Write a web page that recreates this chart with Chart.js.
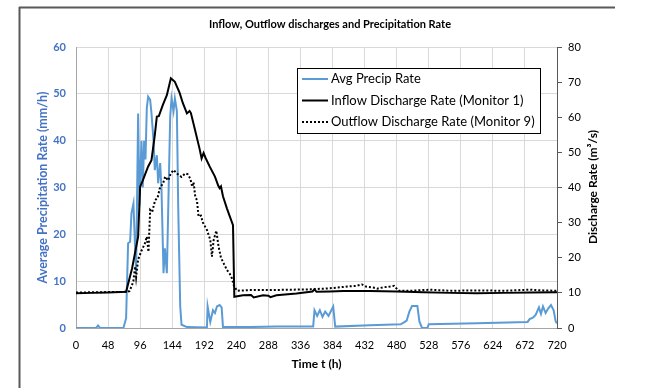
<!DOCTYPE html>
<html>
<head>
<meta charset="utf-8">
<script src="https://cdn.jsdelivr.net/npm/chart.js@4.4.1/dist/chart.umd.min.js"></script>
<style>
  html,body{margin:0;padding:0;background:#fff}
  #wrap{width:651px;height:388px}
</style>
</head>
<body>
<div id="wrap"><canvas id="chart" width="651" height="388"></canvas></div>
<script>
// values (time in hours)
const xTicks = [0,48,96,144,192,240,288,336,384,432,480,528,576,624,672,720];

const precipTime = [0,30,33,36,71,75,78,81,83,86,88,90,93,95,98,100,102,104,106,108,111,113,116,118,121,123,126,128,131,133,136,138,141,143,146,148,151,153,156,158,166,196,197,201,205,208,211,215,218,220,260,300,355,357,361,365,369,373,378,385,388,440,486,491,495,499,503,511,514,518,526,528,600,676,679,684,688,693,696,699,703,707,711,715,718,720];
const precipRate = [0,0,0.5,0,0,2.1,18.1,18.4,24.5,26.6,18.8,12,45.8,26,40,30,40,36,47,49.4,48.7,45.8,40.1,33.7,36.9,30.9,35.2,29.5,11.7,17,11.7,25,45.1,49,46.3,49,46.3,25.9,4.6,0.7,0.2,0.1,4.6,1.3,3.8,3.2,4.6,4.9,4.4,0.2,0.2,0.3,0.3,3.8,2.6,3.8,2.4,3.5,2.6,4.6,0.3,0.6,0.8,1.2,1.6,3.5,4.7,4.7,1.4,0,0,0.8,1.0,1.3,1.9,2.2,2.8,4.4,3,4.6,3.2,4.2,4.9,3.8,1.4,1.0];

const inflowTime = [0,24,48,75,84,93,96,100,108,113,118,121,124,130,136,142,145,148,155,160,166,170,172,178,185,188,191,194,200,208,213,215,217,220,226,235,237,250,262,266,280,288,291,300,330,354,357,360,380,400,440,480,520,560,600,640,680,720];
const inflowRate = [9.9,10.0,10.1,10.3,17,26,40.2,42,46,47.8,55,60.2,60.3,63.5,66.3,71.1,70.6,70.1,67,64,61.1,61.8,61.2,56.5,51,48.3,49.8,48.4,46,43.1,40.5,39.8,40.3,37.5,34,29.3,8.9,9.3,9.4,8.7,9.3,9.2,8.8,9.3,9.8,10.4,11.0,10.3,10.4,10.5,10.5,10.4,10.2,10.0,9.9,10.0,10.1,10.2];

const outflowTime = [0,75,80,83.5,86,88.5,90,93,98,103,106,108.5,111,114,118.5,122,126,130,133.5,138,142,146,150,153.5,158,163.5,167,171,174,176,178.5,181,183.5,187,190,196,201,203.5,206,210,213.5,217,221,226,230,233.5,236,241,260,290,320,350,380,406,420,428,434,445,451,460,470,476,483,500,530,560,600,640,680,700,720];
const outflowRate = [10.1,10.3,10.5,12,13.5,17.5,14.5,19.5,22,24,26,21.7,33.6,33,36.4,37,40.2,41,43.1,42,44,45,44.2,43.6,43,44,43.8,42.6,40.2,41.5,37.4,36.4,31.7,32,30,27.9,25.1,20.3,25,27.7,23.1,20,18.4,16.5,15.5,14.1,12.2,10.6,10.8,10.8,10.9,11,11.3,11.8,12,12.4,11.8,11.5,11.2,11.6,11.8,12,10.6,10.6,10.9,10.6,10.7,10.6,10.9,10.7,10.6];

const FONT = 'Lato, "Open Sans", sans-serif';
const pts = (t, v) => t.map((x,i)=>({x, y:v[i]}));

const decor = {
  id:'decor',
  afterDraw(chart){
    const c = chart.ctx;
    c.save();
    // outer frame lines
    c.strokeStyle='#595959'; c.lineWidth=2;
    c.beginPath(); c.moveTo(19,7.5); c.lineTo(615,7.5); c.moveTo(19.5,7); c.lineTo(19.5,388); c.stroke();
    // title
    c.fillStyle='#000'; c.font='bold 11px '+FONT; c.textAlign='center'; c.textBaseline='middle';
    c.fillText('Inflow, Outflow discharges and Precipitation Rate', 330, 24);
    // right axis title
    c.font='bold 12px '+FONT;
    c.translate(593,187); c.rotate(-Math.PI/2);
    c.fillText('Discharge Rate (m\u00b3/s)', 0, 0);
    c.restore();
    // legend box
    c.save();
    c.fillStyle='#fff'; c.fillRect(297,68,243,65);
    c.strokeStyle='#000'; c.lineWidth=1; c.strokeRect(297.5,68.5,243,65);
    c.font='13px '+FONT; c.textBaseline='middle'; c.textAlign='left';
    chart.data.datasets.forEach((ds,i)=>{
      const y = 79 + i*21.5;
      c.strokeStyle=ds.borderColor; c.lineWidth=ds.borderWidth; c.setLineDash(ds.borderDash||[]);
      c.beginPath(); c.moveTo(302,y); c.lineTo(328,y); c.stroke();
      c.setLineDash([]); c.fillStyle='#000';
      c.fillText(ds.label, 331, y);
    });
    c.restore();
  }
};

new Chart(document.getElementById('chart'), {
  type:'line',
  data:{ datasets:[
    { label:'Avg Precip Rate', data:pts(precipTime,precipRate), yAxisID:'y', borderColor:'#5B9BD5', borderWidth:2, pointRadius:0, tension:0, order:3 },
    { label:'Inflow Discharge Rate (Monitor 1)', data:pts(inflowTime,inflowRate), yAxisID:'y2', borderColor:'#000', borderWidth:2, pointRadius:0, tension:0, order:1 },
    { label:'Outflow Discharge Rate (Monitor 9)', data:pts(outflowTime,outflowRate), yAxisID:'y2', borderColor:'#000', borderWidth:2, borderDash:[2,2], pointRadius:0, tension:0, order:2 }
  ]},
  options:{
    responsive:false, animation:false,
    layout:{ padding:{ top:47, left:0, right:0, bottom:0 } },
    plugins:{ legend:{ display:false }, tooltip:{ enabled:false } },
    scales:{
      x:{ type:'linear', min:0, max:720,
        afterBuildTicks: s => { s.ticks = xTicks.map(v=>({value:v})); },
        ticks:{ color:'#000', font:{ family:FONT, size:11 }, padding:11, maxRotation:0, autoSkip:false },
        grid:{ color:'#d9d9d9', drawTicks:false },
        border:{ color:'#a6a6a6' },
        title:{ display:true, text:'Time t (h)', color:'#000', font:{ family:FONT, size:12, weight:'bold' }, padding:{ top:0, bottom:17 } },
        afterFit: s => { s.height = 60; } },
      y:{ position:'left', min:0, max:60,
        ticks:{ stepSize:10, color:'#4472C4', font:{ family:FONT, size:11, weight:'bold' }, padding:10 },
        grid:{ color:'#d9d9d9', drawTicks:false },
        border:{ color:'#a6a6a6' },
        title:{ display:true, text:'Average Precipitation Rate (mm/h)', color:'#4472C4', font:{ family:FONT, size:12.5, weight:'bold' }, padding:{ top:35, bottom:0 } },
        afterFit: s => { s.width = 76; } },
      y2:{ position:'right', min:0, max:80,
        ticks:{ stepSize:10, color:'#000', font:{ family:FONT, size:11 }, padding:6 },
        grid:{ drawOnChartArea:false, tickLength:5, color:'#595959' },
        border:{ color:'#595959' },
        afterFit: s => { s.width = 94; } }
    }
  },
  plugins:[decor]
});
</script>
</body>
</html>
